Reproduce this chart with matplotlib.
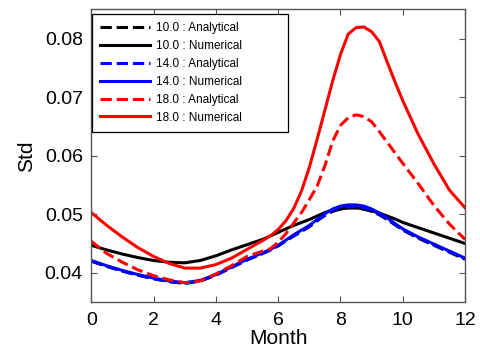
import matplotlib
matplotlib.use("Agg")
import matplotlib.pyplot as plt

plt.rcParams['font.family'] = ['Liberation Sans', 'DejaVu Sans']

months = [0, 0.5, 1, 1.5, 2, 2.5, 3, 3.5, 4, 4.5, 5, 5.5, 5.75, 6, 6.25, 6.5, 6.75,
          7, 7.25, 7.5, 7.75, 8, 8.25, 8.5, 8.75, 9, 9.25, 9.5, 9.75, 10, 10.5,
          11, 11.5, 12]

# 10.0
std10_num = [0.0447, 0.0439, 0.0432, 0.0426, 0.0421, 0.0418, 0.0417, 0.0421, 0.0429,
             0.0439, 0.0448, 0.0457, 0.0463, 0.0469, 0.0475, 0.0481, 0.0486,
             0.0491, 0.0497, 0.0503, 0.0507, 0.0509, 0.0511, 0.0511, 0.0509,
             0.0506, 0.0502, 0.0497, 0.0492, 0.0486, 0.0477, 0.0468, 0.0459, 0.0450]
std10_ana = [0.0420, 0.0411, 0.0403, 0.0396, 0.0390, 0.0385, 0.0382, 0.0386, 0.0396,
             0.0409, 0.0422, 0.0433, 0.0439, 0.0446, 0.0455, 0.0463, 0.0471,
             0.0479, 0.0489, 0.0498, 0.0505, 0.0509, 0.0511, 0.0511, 0.0509,
             0.0505, 0.0499, 0.0491, 0.0482, 0.0473, 0.0459, 0.0447, 0.0435, 0.0423]
# 14.0
std14_num = [0.0421, 0.0412, 0.0404, 0.0397, 0.0391, 0.0386, 0.0383, 0.0387, 0.0397,
             0.0410, 0.0423, 0.0434, 0.0440, 0.0447, 0.0456, 0.0465, 0.0473,
             0.0481, 0.0491, 0.0501, 0.0509, 0.0514, 0.0516, 0.0516, 0.0514,
             0.0509, 0.0502, 0.0494, 0.0484, 0.0475, 0.0461, 0.0449, 0.0437, 0.0425]
std14_ana = [0.0420, 0.0411, 0.0403, 0.0396, 0.0390, 0.0385, 0.0382, 0.0386, 0.0396,
             0.0409, 0.0422, 0.0433, 0.0439, 0.0446, 0.0455, 0.0463, 0.0471,
             0.0479, 0.0489, 0.0499, 0.0507, 0.0512, 0.0513, 0.0513, 0.0511,
             0.0507, 0.0500, 0.0492, 0.0483, 0.0474, 0.0460, 0.0448, 0.0436, 0.0424]
# 18.0
std18_num = [0.0503, 0.0481, 0.0461, 0.0443, 0.0428, 0.0416, 0.0408, 0.0408, 0.0414,
             0.0425, 0.0440, 0.0455, 0.0463, 0.0474, 0.0489, 0.0510, 0.0540,
             0.0580, 0.0628, 0.0678, 0.0728, 0.0773, 0.0808, 0.0819, 0.0820,
             0.0812, 0.0795, 0.0760, 0.0726, 0.0694, 0.0636, 0.0586, 0.0541, 0.0511]
std18_ana = [0.0454, 0.0433, 0.0418, 0.0405, 0.0395, 0.0388, 0.0383, 0.0386, 0.0398,
             0.0412, 0.0428, 0.0437, 0.0441, 0.0452, 0.0467, 0.0485, 0.0503,
             0.0525, 0.0548, 0.0583, 0.0625, 0.0652, 0.0665, 0.0670, 0.0667,
             0.0658, 0.0641, 0.0623, 0.0605, 0.0587, 0.0552, 0.0515, 0.0483, 0.0457]

series = [
    ("10.0 : Analytical", std10_ana, "black", "--"),
    ("10.0 : Numerical", std10_num, "black", "-"),
    ("14.0 : Analytical", std14_ana, "blue", "--"),
    ("14.0 : Numerical", std14_num, "blue", "-"),
    ("18.0 : Analytical", std18_ana, "red", "--"),
    ("18.0 : Numerical", std18_num, "red", "-"),
]

xticks = [0, 2, 4, 6, 8, 10, 12]
yticks = [0.04, 0.05, 0.06, 0.07, 0.08]

fig = plt.figure(figsize=(4.8, 3.5), dpi=100)
ax = fig.add_axes([0.19, 0.137, 0.779, 0.836])

for label, vals, color, ls in series:
    ax.plot(months, vals, color=color, linestyle=ls, linewidth=2.2, label=label)

ax.set_xlim(0, 12)
ax.set_ylim(0.035, 0.085)
ax.set_xticks(xticks)
ax.set_xticklabels([str(t) for t in xticks])
ax.set_yticks(yticks)
ax.set_yticklabels([f"{t:.2f}" for t in yticks])
ax.tick_params(direction='in', length=4, width=0.8, colors='#555555',
               labelcolor='black', labelsize=14, top=True, right=True)
ax.tick_params(axis='x', pad=7)
ax.tick_params(axis='y', pad=6)
for sp in ax.spines.values():
    sp.set_color('#555555')
    sp.set_linewidth(1.0)

ax.set_xlabel("Month", fontsize=15, labelpad=0)
ax.set_ylabel("Std", fontsize=15, labelpad=6)

leg = ax.legend(loc='upper left', bbox_to_anchor=(0.002, 0.0, 0.524, 0.985),
                mode='expand', fontsize=8.5,
                handlelength=4.2, handletextpad=0.5, labelspacing=0.5,
                borderpad=0.7, borderaxespad=0, fancybox=False, framealpha=1,
                edgecolor='black')
leg.get_frame().set_linewidth(0.9)

fig.savefig("out.png", dpi=100)
